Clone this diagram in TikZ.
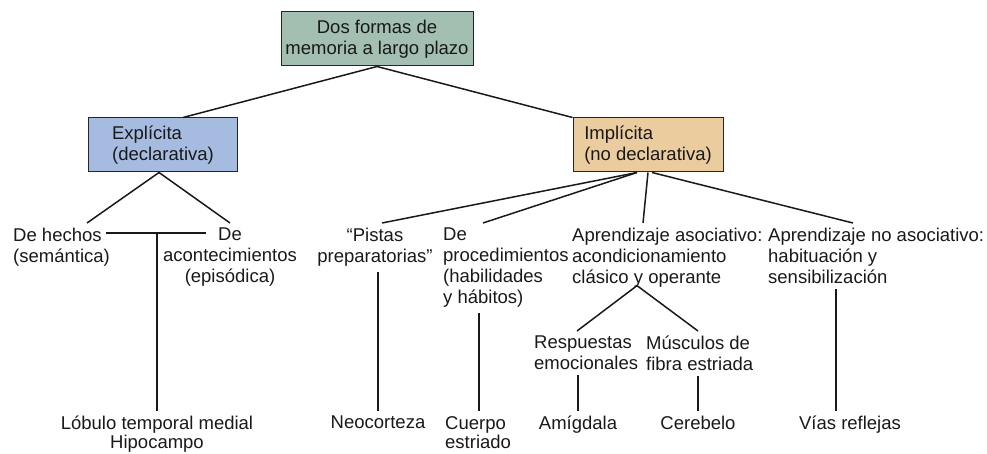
\documentclass[tikz,border=0pt]{standalone}
\usepackage{fontspec}
\setmainfont{Liberation Sans}
\usepackage{xcolor}
\usepackage{tikz}
\usetikzlibrary{positioning, calc}
\definecolor{rootgreen}{HTML}{A3BFB2}
\definecolor{explblue}{HTML}{A6BBE0}
\definecolor{impltan}{HTML}{EBCC9F}

\begin{document}
\begin{tikzpicture}[
    x=1pt, y=-1pt,
    every node/.style={font=\fontsize{18.5}{21}\selectfont, text=black!90},
    category/.style={rectangle, draw=black!85, line width=1pt, minimum height=54pt, inner sep=4pt},
    item/.style={inner sep=5pt},
    region/.style={inner sep=5pt, font=\fontsize{18.5}{19}\selectfont},
    link/.style={line width=1.5pt, black!90},
]
\useasboundingbox (0,0) rectangle (987,454);

\node[category, fill=rootgreen, minimum width=192pt, align=center] (root) at (377,39) {Dos formas de\\memoria a largo plazo};
\node[category, fill=explblue, minimum width=149pt, align=left] (expl) at (163,145) {Explícita\\(declarativa)};
\node[category, fill=impltan, minimum width=150pt, align=left] (impl) at (648,145) {Implícita\\(no declarativa)};

\node[item, align=left, anchor=north west] (hechos) at (8,223) {De hechos\\(semántica)};
\node[item, align=center, anchor=north] (acont) at (230,223) {De\\acontecimientos\\(episódica)};
\node[region, align=center, anchor=north] (lobulo) at (157,411) {Lóbulo temporal medial\\Hipocampo};

\node[item, align=center, anchor=north] (pistas) at (375,223) {“Pistas\\preparatorias”};
\node[region, anchor=north] (neo) at (378,411) {Neocorteza};
\node[item, align=left, anchor=north west] (proc) at (438,223) {De\\procedimientos\\(habilidades\\y hábitos)};
\node[region, align=left, anchor=north west] (cuerpo) at (440,411) {Cuerpo\\estriado};
\node[item, align=left, anchor=north west] (asoc) at (567,223) {Aprendizaje asociativo:\\acondicionamiento\\clásico y operante};
\node[item, align=left, anchor=north west] (resp) at (529,331) {Respuestas\\emocionales};
\node[item, align=left, anchor=north west] (musc) at (641,331) {Músculos de\\fibra estriada};
\node[region, anchor=north] (amig) at (578,411) {Amígdala};
\node[region, anchor=north] (cereb) at (698,411) {Cerebelo};
\node[item, align=left, anchor=north west] (noasoc) at (763,223) {Aprendizaje no asociativo:\\habituación y\\sensibilización};
\node[region, anchor=north] (vias) at (850,411) {Vías reflejas};

% top level
\draw[link] (root.south) -- ($(expl.north)+(20,0)$);
\draw[link] (root.south) -- (impl.north west);

% explicita
\draw[link] ($(expl.south)+(-4,0)$) -- ($(hechos.north west)+(79,0)$);
\draw[link] ($(expl.south)+(-4,0)$) -- (acont.north);
\draw[link] ($(hechos.north west)+(98,10)$) coordinate (hline) -- ($(acont.north)+(-24,10)$);
\draw[link] (lobulo.north) -- (lobulo.north |- hline);

% implicita
\draw[link] ($(impl.south)+(-11,0)$) -- ($(pistas.north)+(7,0)$);
\draw[link] ($(impl.south)+(-11,0)$) -- ($(proc.north west)+(45,0)$);
\draw[link] (impl.south) -- ($(asoc.north west)+(76,0)$);
\draw[link] ($(impl.south)+(4,0)$) -- ($(noasoc.north west)+(90,0)$);

\draw[link] ($(pistas.south)+(3,0)$) -- (neo.north);
\draw[link] ($(proc.south west)+(41,0)$) -- ($(cuerpo.north west)+(39,0)$);
\draw[link] ($(asoc.south west)+(70,-7)$) -- ($(resp.north west)+(48,0)$);
\draw[link] ($(asoc.south west)+(70,-7)$) -- ($(musc.north west)+(57,0)$);
\draw[link] ($(resp.south west)+(49,0)$) -- (amig.north);
\draw[link] ($(musc.south west)+(57,0)$) -- (cereb.north);
\draw[link] ($(noasoc.south west)+(73,0)$) -- ($(vias.north)+(-14,0)$);

\end{tikzpicture}
\end{document}
